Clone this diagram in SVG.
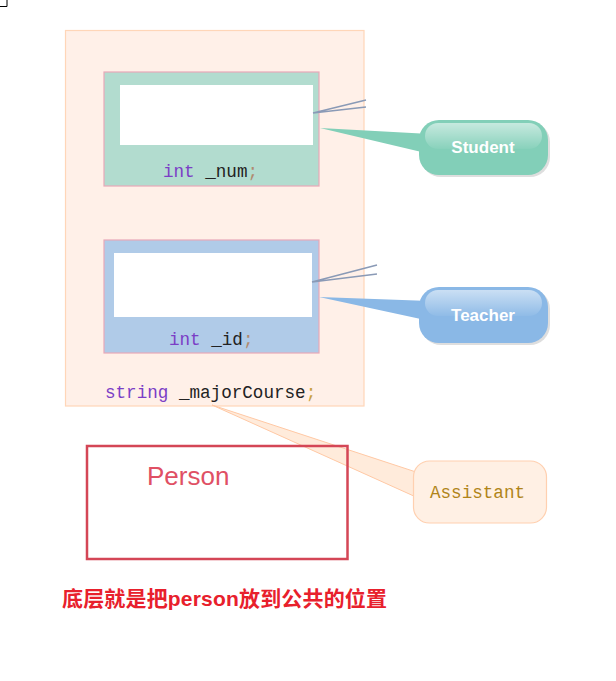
<svg xmlns="http://www.w3.org/2000/svg" width="616" height="681" viewBox="0 0 616 681">
<defs>
<style>
.mono{font-family:"Liberation Mono","DejaVu Sans Mono",monospace;font-size:17.6px}
.kw{fill:#7b3ec6}
.id{fill:#222}
.sc{fill:#b08a70}
.lbl{font-family:"Liberation Sans",Arial,sans-serif;font-weight:bold;font-size:17px;fill:#fff;text-anchor:middle}
.lead{stroke:#8a9ab6;stroke-width:1.6;fill:none}
.field{stroke:#e8a8b8;stroke-width:1.2}
.inner{fill:#fff}
</style>
<linearGradient id="gloss" x1="0" y1="0" x2="0" y2="1">
<stop offset="0" stop-color="#fff" stop-opacity="0.55"/>
<stop offset="1" stop-color="#fff" stop-opacity="0.05"/>
</linearGradient>
</defs>
<rect width="616" height="681" fill="#fff"/>
<path d="M0 6.5H7V0" fill="none" stroke="#000" stroke-width="1"/>

<g id="assistant-class">
<rect x="65.5" y="30.5" width="298.5" height="375.5" fill="#fff0e8" stroke="#ffd6b8" stroke-width="1.2"/>
<text class="mono" x="105" y="398"><tspan class="kw">string</tspan><tspan class="id"> _majorCourse</tspan><tspan fill="#c8a040">;</tspan></text>
</g>

<g id="student-part">
<rect class="field" x="104" y="72" width="215" height="114" fill="#b2dccf"/>
<rect class="inner" x="120" y="85" width="193" height="60"/>
<text class="mono" x="163" y="177"><tspan class="kw">int</tspan><tspan class="id"> _num</tspan><tspan class="sc">;</tspan></text>
</g>

<g id="teacher-part">
<rect class="field" x="104" y="240" width="215" height="113" fill="#b0cbe8"/>
<rect class="inner" x="114" y="253" width="198" height="64"/>
<text class="mono" x="169" y="345"><tspan class="kw">int</tspan><tspan class="id"> _id</tspan><tspan class="sc">;</tspan></text>
</g>

<g id="connectors">
<path class="lead" d="M313 113L366 100M313 113L366 107"/>
<path class="lead" d="M312 282L377 265M312 282L377 274"/>
<polygon points="212,405 416,472 416,497" fill="#ffe6d2" fill-opacity="0.8" stroke="#ffc8a4" stroke-width="1"/>
</g>

<g id="student">
<rect x="421" y="122" width="129" height="55" rx="20" fill="#c8c8c8" opacity="0.6"/>
<polygon points="320,128 430,134 430,154" fill="#82cfb8"/>
<rect x="419" y="120" width="129" height="55" rx="20" fill="#82cfb8"/>
<rect x="425" y="123" width="117" height="26" rx="13" fill="url(#gloss)"/>
<text class="lbl" x="483" y="153">Student</text>
</g>

<g id="teacher">
<rect x="421" y="289" width="129" height="56" rx="20" fill="#c8c8c8" opacity="0.6"/>
<polygon points="319,297 430,301 430,321" fill="#8ab8e6"/>
<rect x="419" y="287" width="129" height="56" rx="20" fill="#8ab8e6"/>
<rect x="425" y="290" width="117" height="26" rx="13" fill="url(#gloss)"/>
<text class="lbl" x="483" y="321">Teacher</text>
</g>

<g id="assistant">
<rect x="413.5" y="461" width="133" height="62" rx="16" fill="#fff0e4" stroke="#ffd0b0" stroke-width="1.2"/>
<text class="mono" x="430" y="498" fill="#b08418">Assistant</text>
</g>

<g id="person">
<rect x="87" y="446" width="260.5" height="113" fill="none" stroke="#d44656" stroke-width="2.5"/>
<text x="147" y="485" font-family="'Liberation Sans',Arial,sans-serif" font-size="26" fill="#e05064">Person</text>
</g>

<text x="62" y="606" font-family="'Liberation Sans','Noto Sans CJK SC',sans-serif" font-weight="bold" font-size="21" fill="#e8202c" textLength="325">底层就是把person放到公共的位置</text>
</svg>
